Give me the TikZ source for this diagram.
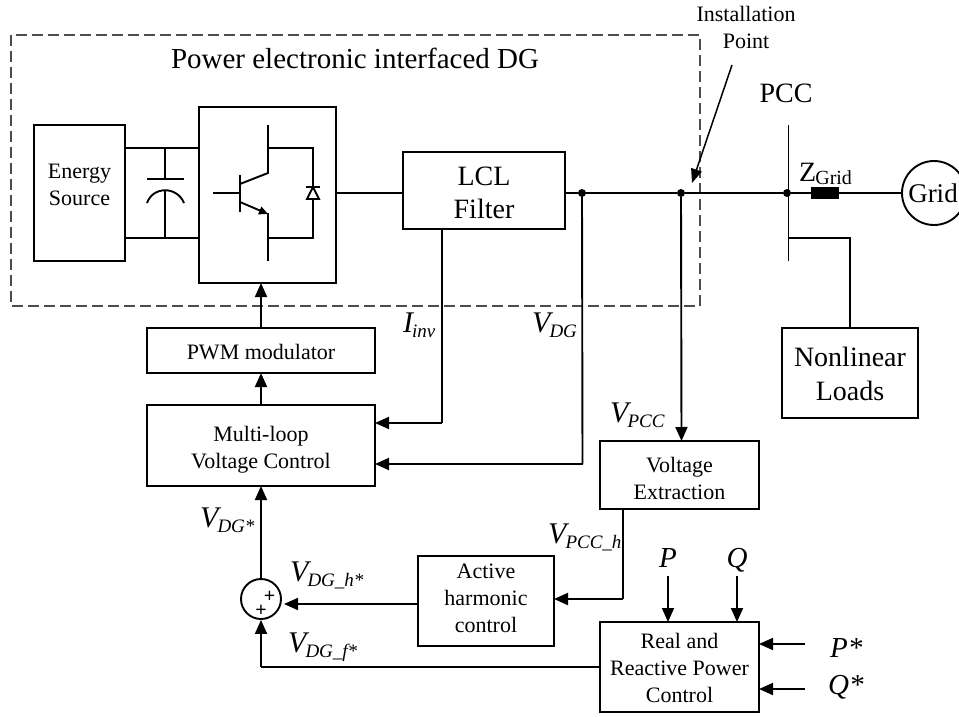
\documentclass[tikz,border=0pt]{standalone}
\usepackage{fontspec}
\setmainfont{Liberation Serif}
\usetikzlibrary{arrows.meta}
\newcommand{\fsz}[1]{\fontsize{#1}{#1}\selectfont}
\newcommand{\sig}[2]{{\itshape\fsz{30}#1\kern-1pt\raisebox{-5pt}{\fsz{19}#2}}}
\tikzset{
	block/.style={draw, line width=1.9pt, inner sep=0pt, outer sep=0pt, align=center, font=\fsz{22}, execute at begin node=\setlength{\baselineskip}{27pt}},
	blocktext/.style={align=center, inner sep=0pt, font=\fsz{22}, execute at begin node=\setlength{\baselineskip}{27pt}},
	bigtext/.style={align=center, inner sep=0pt, font=\fsz{28}, execute at begin node=\setlength{\baselineskip}{33.5pt}},
	wire/.style={line width=1.9pt},
	sigwire/.style={line width=1.9pt, -{Triangle[length=14pt,width=12pt]}},
	junction/.style={circle, fill=black, inner sep=0pt, minimum size=8pt},
	siglabel/.style={anchor=west, inner sep=0pt},
}
\begin{document}
\begin{tikzpicture}[x=1pt,y=-1pt]
	\useasboundingbox (0,0) rectangle (959,717) ;
	% DG frame
	\draw[black!70, line width=1.2pt, dash pattern=on 11pt off 5pt] (11,35) rectangle (700,306) ;
	\node[font=\fsz{29}] (dgtitle) at (355,58) {Power electronic interfaced DG} ;
	% Power stage
	\node[block, minimum width=91pt, minimum height=136pt] (energy) at (79.5,193) {} ;
	\node[blocktext] (energytext) at (79.5,185) {Energy\\Source} ;
	\node[block, minimum width=137pt, minimum height=176pt] (conv) at (267.5,195) {} ;
	\node[block, minimum width=162pt, minimum height=77pt] (lcl) at (484,190.5) {} ;
	\node[bigtext] (lcltext) at (484,193) {LCL\\Filter} ;
	% DC link and capacitor
	\coordinate (dctop) at (165,148) ;
	\coordinate (dcbot) at (165,238) ;
	\draw[wire] (energy.east |- dctop) -- (conv.west |- dctop) ;
	\draw[wire] (energy.east |- dcbot) -- (conv.west |- dcbot) ;
	\draw[wire] (dctop) -- (165,179) ;
	\draw[wire] (147,179) -- (184,179) ;
	\draw[wire] (147,203) .. controls (153,186) and (177,186) .. (184,203) ;
	\draw[wire] (165,191) -- (dcbot) ;
	% Switch and diode
	\draw[wire] (213,193) -- (240,193) ;
	\draw[wire] (240,175) -- (240,212) ;
	\draw[wire] (268,125) -- (268,173) -- (240,184) ;
	\draw[wire, -{Triangle[length=9pt,width=8pt]}] (240,202) -- (268,214) ;
	\draw[wire] (268,213) -- (268,261) ;
	\draw[wire] (268,148) -- (313,148) -- (313,238) -- (268,238) ;
	\draw[wire, fill=white] (313,187) -- (307,199) -- (319,199) -- cycle ;
	\draw[wire] (306,187) -- (320,187) ;
	% Main line and grid
	\node[junction] (jdg) at (582,193) {} ;
	\node[junction] (jinst) at (681,193) {} ;
	\node[junction] (jbus) at (787,193) {} ;
	\node[fill=black, inner sep=0pt, minimum width=28pt, minimum height=12pt] (zgrid) at (825,193) {} ;
	\node[draw, circle, line width=1.9pt, minimum size=64pt, inner sep=0pt] (grid) at (934,193) {} ;
	\node[font=\fsz{27}] (gridtext) at (933,193) {Grid} ;
	\draw[wire] (conv.east |- jdg) -- (lcl.west |- jdg) ;
	\draw[wire] (lcl.east |- jdg) -- (jdg) -- (jinst) -- (jbus) -- (zgrid) -- (grid) ;
	\node[font=\fsz{28}, inner sep=0pt] (pcctext) at (786,93) {PCC} ;
	\node[anchor=west, inner sep=0pt] (ztext) at (799,174) {\fsz{28}Z\kern-1pt\raisebox{-3pt}{\fsz{20}Grid}} ;
	% Bus and load
	\coordinate (bustop) at (788.5,125) ;
	\coordinate (busbot) at (788.5,261) ;
	\coordinate (loadtap) at (850,238) ;
	\draw[wire] (bustop) -- (busbot) ;
	\node[block, minimum width=136pt, minimum height=90pt] (load) at (850,373) {} ;
	\node[bigtext] (loadtext) at (850,374) {Nonlinear\\Loads} ;
	\draw[wire] (bustop |- loadtap) -- (loadtap) -- (load.north) ;
	% Installation point
	\node[blocktext] (insttext) at (746,27) {Installation\\Point} ;
	\coordinate (instfrom) at (732,65) ;
	\coordinate (instto) at (692,183) ;
	\draw[line width=1.5pt, -{Triangle[length=14pt,width=11pt]}] (instfrom) -- (instto) ;
	% Control blocks
	\node[block, minimum width=228pt, minimum height=45pt] (pwm) at (261,350.5) {} ;
	\node[blocktext] (pwmtext) at (261,352) {PWM modulator} ;
	\node[block, minimum width=228pt, minimum height=81pt] (mloop) at (261,445.5) {} ;
	\node[blocktext] (mlooptext) at (261,450) {Multi-loop\\Voltage Control} ;
	\node[block, minimum width=159pt, minimum height=68pt] (vext) at (679.5,475) {} ;
	\node[blocktext] (vexttext) at (679.5,478) {Voltage\\Extraction} ;
	\node[block, minimum width=136pt, minimum height=90pt] (ahc) at (486,601) {} ;
	\node[blocktext] (ahctext) at (486,598) {Active\\harmonic\\control} ;
	\node[block, minimum width=159pt, minimum height=90pt] (pqc) at (679.5,667) {} ;
	\node[blocktext] (pqctext) at (679.5,668) {Real and\\Reactive Power\\Control} ;
	\node[draw, circle, line width=1.9pt, minimum size=40pt, inner sep=0pt] (sum) at (261,599) {} ;
	\node[font=\bfseries\fsz{20}, inner sep=0pt] (plusa) at (269.5,597) {+} ;
	\node[font=\bfseries\fsz{20}, inner sep=0pt] (plusb) at (261,611) {+} ;
	% Signals
	\coordinate (iinvtap) at (442,423) ;
	\coordinate (vdgtap) at (582.5,464) ;
	\coordinate (vpcctap) at (681.5,441) ;
	\coordinate (vhtap) at (623,599) ;
	\coordinate (vftap) at (261,667) ;
	\coordinate (vdghtap) at (284,604) ;
	\draw[sigwire] (pwm.north) -- (conv.south -| pwm.north) ;
	\draw[sigwire] (mloop.north) -- (pwm.south) ;
	\draw[wire] (iinvtap |- lcl.south) -- (iinvtap) ;
	\draw[sigwire] (iinvtap) -- (iinvtap -| mloop.east) ;
	\draw[wire] (jdg) -- (vdgtap) ;
	\draw[sigwire] (vdgtap) -- (vdgtap -| mloop.east) ;
	\draw[sigwire] (jinst) -- (vpcctap) ;
	\draw[wire] (vhtap |- vext.south) -- (vhtap) ;
	\draw[sigwire] (vhtap) -- (ahc.east |- vhtap) ;
	\draw[sigwire] (ahc.west |- vdghtap) -- (vdghtap) ;
	\draw[sigwire] (sum.north) -- (mloop.south) ;
	\draw[wire] (pqc.west |- vftap) -- (vftap) ;
	\draw[sigwire] (vftap) -- (sum.south) ;
	% Power references
	\coordinate (pfrom) at (668,576) ;
	\coordinate (qfrom) at (737,576) ;
	\coordinate (psfrom) at (805,644) ;
	\coordinate (qsfrom) at (805,689) ;
	\draw[sigwire] (pfrom) -- (pfrom |- pqc.north) ;
	\draw[sigwire] (qfrom) -- (qfrom |- pqc.north) ;
	\draw[sigwire] (psfrom) -- (pqc.east |- psfrom) ;
	\draw[sigwire] (qsfrom) -- (pqc.east |- qsfrom) ;
	% Labels
	\node[siglabel] (iinvtext) at (403,325) {\sig{I}{inv}} ;
	\node[siglabel] (vdgtext) at (532,325) {\sig{V}{DG}} ;
	\node[siglabel] (vpcctext) at (610,415) {\sig{V}{PCC}} ;
	\node[siglabel] (vhtext) at (548,537) {\sig{V}{PCC\_h}} ;
	\node[siglabel] (vdgstext) at (200,520) {\sig{V}{DG*}} ;
	\node[siglabel] (vdghtext) at (290,575) {\sig{V}{DG\_h*}} ;
	\node[siglabel] (vdgftext) at (288,647) {\sig{V}{DG\_f*}} ;
	\node[font=\itshape\fsz{29}, inner sep=0pt] (ptext) at (668,558) {P} ;
	\node[font=\itshape\fsz{29}, inner sep=0pt] (qtext) at (737,560) {Q} ;
	\node[siglabel, font=\itshape\fsz{29}] (pstext) at (830,648) {P*} ;
	\node[siglabel, font=\itshape\fsz{29}] (qstext) at (828,687) {Q*} ;
\end{tikzpicture}
\end{document}
